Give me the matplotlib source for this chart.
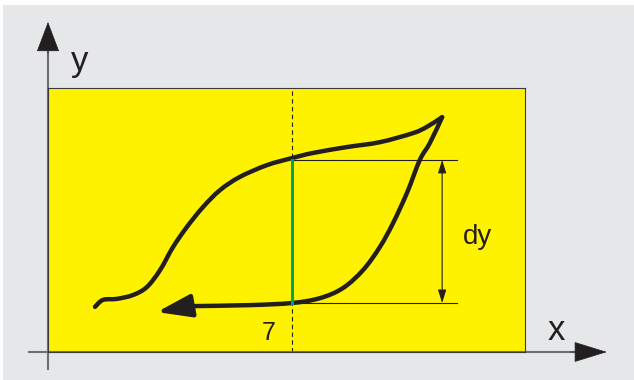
import matplotlib
matplotlib.use('Agg')
import matplotlib.pyplot as plt
import numpy as np
from matplotlib.patches import Rectangle, PathPatch
from matplotlib.path import Path

plt.rcParams['font.family'] = ['Liberation Sans', 'DejaVu Sans']

# loading branch (lower left -> upper right tip)
up_x = [1.35, 1.58, 1.98, 2.44, 2.84, 3.22, 3.59, 3.99, 4.45, 4.94, 5.51, 6.29, 7.0,
        7.61, 8.59, 9.53, 10.48, 10.88, 11.32]
up_y = [1.30, 1.50, 1.53, 1.64, 1.87, 2.36, 3.02, 3.60, 4.17, 4.66, 5.04, 5.38, 5.58,
        5.73, 5.90, 6.04, 6.30, 6.48, 6.76]
# unloading branch (tip -> back to the left)
down_x = [11.32, 10.97, 10.68, 10.31, 9.91, 9.53, 9.05, 8.47, 7.81, 7.0, 5.80, 4.08]
down_y = [6.76, 6.02, 5.53, 4.58, 3.71, 3.02, 2.36, 1.84, 1.55, 1.41, 1.35, 1.32]
arrow_tip = (3.13, 1.15)

x_mark = 7.0          # the "7" position
y_hi, y_lo = 5.53, 1.41   # the two branch values at x = 7
dy_x = 11.32
line_end = 11.75

gray = '#e6e7e8'
yellow = '#fff200'
ink = '#231f20'


def smooth_path(xs, ys):
    # bezier path through the points (catmull-rom style handles)
    p = np.column_stack([xs, ys])
    verts = [p[0]]
    codes = [Path.MOVETO]
    n = len(p)
    for i in range(n - 1):
        p0 = p[i - 1] if i > 0 else p[i]
        p1, p2 = p[i], p[i + 1]
        p3 = p[i + 2] if i + 2 < n else p[i + 1]
        verts += [p1 + (p2 - p0) / 6, p2 - (p3 - p1) / 6, p2]
        codes += [Path.CURVE4] * 3
    return Path(verts, codes)


fig = plt.figure(figsize=(6.34, 3.8), dpi=100, facecolor='white')
fig.patches.append(Rectangle((3 / 634, 0), 1, 375 / 380, transform=fig.transFigure,
                             facecolor=gray, edgecolor='none', zorder=-10))

ax = fig.add_axes([48 / 634, 28 / 380, 477 / 634, 264 / 380])
ax.set_facecolor(yellow)
ax.set_xlim(0, 13.7)
ax.set_ylim(0, 7.6)
ax.set_xticks([])
ax.set_yticks([])
for s in ax.spines.values():
    s.set_color('#3a3a3a')
    s.set_linewidth(0.8)

# dashed marker line at x = 7
ax.plot([x_mark, x_mark], [0, 7.6], color=ink, lw=0.8, ls=(0, (4, 3)))

# thin horizontal guides and dy arrow
ax.plot([x_mark, line_end], [y_hi, y_hi], color=ink, lw=0.8)
ax.plot([x_mark, line_end], [y_lo, y_lo], color=ink, lw=0.8)
ax.annotate('', xy=(dy_x, y_hi), xytext=(dy_x, y_lo),
            arrowprops=dict(arrowstyle='<|-|>,head_length=0.8,head_width=0.25',
                            color=ink, lw=0.8, shrinkA=0, shrinkB=0, mutation_scale=10))
ax.text(12.35, 3.31, 'dy', fontsize=20, color=ink, ha='center', va='center')

# hysteresis curve
for xs, ys in [(up_x, up_y), (down_x, down_y)]:
    ax.add_patch(PathPatch(smooth_path(xs, ys), facecolor='none', edgecolor=ink,
                           lw=3.2, capstyle='round', joinstyle='round'))
ax.annotate('', xy=arrow_tip, xytext=(down_x[-1], down_y[-1]),
            arrowprops=dict(arrowstyle='-|>,head_length=2.1,head_width=0.7',
                            color=ink, lw=3.2, shrinkA=0, shrinkB=0, mutation_scale=10))

# green dy segment
ax.plot([x_mark, x_mark], [y_lo, y_hi], color='#00a651', lw=2.2)

ax.text(6.35, 0.55, '7', fontsize=18, color=ink, ha='center', va='center')

# coordinate axes with arrows
axis_col = '#6d6e71'
ax.plot([0, 0], [-0.49, 8.8], color=axis_col, lw=1.5, clip_on=False)
ax.plot([-0.55, 15.3], [0, 0], color=axis_col, lw=1.5, clip_on=False)
ax.annotate('', xy=(0, 9.5), xytext=(0, 8.6), annotation_clip=False,
            arrowprops=dict(arrowstyle='-|>,head_length=2.0,head_width=0.76',
                            color=ink, lw=0.5, shrinkA=0, shrinkB=0, mutation_scale=10))
ax.annotate('', xy=(16.05, 0), xytext=(15.0, 0), annotation_clip=False,
            arrowprops=dict(arrowstyle='-|>,head_length=2.2,head_width=0.68',
                            color=ink, lw=0.5, shrinkA=0, shrinkB=0, mutation_scale=10))
ax.text(0.92, 8.35, 'y', fontsize=25, color=ink, ha='center', va='center', clip_on=False)
ax.text(14.59, 0.63, 'x', fontsize=25, color=ink, ha='center', va='center', clip_on=False)

fig.savefig('out.png', dpi=100, facecolor=fig.get_facecolor())
